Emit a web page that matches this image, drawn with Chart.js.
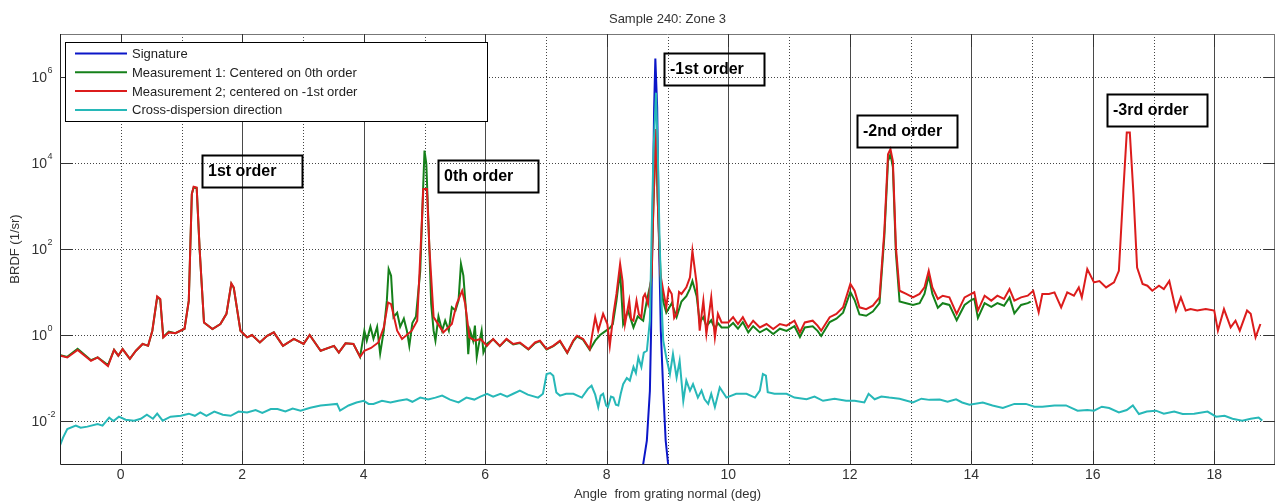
<!DOCTYPE html>
<html>
<head>
<meta charset="utf-8">
<title>Sample 240: Zone 3</title>
<script src="https://cdn.jsdelivr.net/npm/chart.js@4.4.1/dist/chart.umd.min.js"></script>
<style>
    html, body { margin: 0; padding: 0; background: #fff; }
    #wrap { width: 1275px; height: 502px; }
</style>
</head>
<body>
<div id="wrap"><canvas id="brdfChart" width="1275" height="502"></canvas></div>
<script>
// ===================================
// BRDF - Sample 240, Zone 3
// ===================================

const chartTitle = 'Sample 240: Zone 3';
const xTitle = 'Angle  from grating normal (deg)';
const yTitle = 'BRDF (1/sr)';

const seriesLabels = [
    'Signature',
    'Measurement 1: Centered on 0th order',
    'Measurement 2; centered on -1st order',
    'Cross-dispersion direction'
];
const seriesColors = ['#0b16c8', '#15801a', '#dc1c1c', '#27b8b8'];

// eixo y (log): marcas em décadas pares
const yTicks = [1e-2, 1e0, 1e2, 1e4, 1e6];
const yTickExponents = ['-2', '0', '2', '4', '6'];

// Signature (azul)
const sigX = [8.56, 8.60, 8.66, 8.71, 8.73, 8.75, 8.78, 8.80, 8.83, 8.86, 8.89, 8.93, 8.97, 9.01, 9.06];
const sigY = [0.0001, 0.001, 0.0035, 0.05, 1.26, 155, 195000, 2700000, 195000, 155, 1.26, 0.05, 0.0035, 0.001, 0.0001];

// Measurement 1 (verde)
const m1X = [
    -0.99, -0.88, -0.71, -0.49, -0.38, -0.21, -0.11, -0.04, 0.03, 0.15, 0.25, 0.36, 0.45, 0.52, 0.60, 0.65,
    0.70, 0.79, 0.90, 1.05, 1.12, 1.17, 1.20, 1.25, 1.30, 1.37, 1.51, 1.64, 1.74, 1.82, 1.86, 1.97,
    2.08, 2.16, 2.29, 2.41, 2.52, 2.67, 2.85, 3.01, 3.11, 3.29, 3.51, 3.59, 3.70, 3.83, 3.94,
    4.01, 4.05, 4.11, 4.16, 4.22, 4.27, 4.33, 4.38, 4.41, 4.45, 4.49, 4.55, 4.60, 4.66, 4.71, 4.75,
    4.80, 4.86, 4.93, 4.97, 5.00, 5.03, 5.07, 5.11, 5.15, 5.18, 5.23, 5.29, 5.34, 5.40, 5.45, 5.51,
    5.56, 5.60, 5.64, 5.69, 5.72, 5.75, 5.80, 5.83, 5.86, 5.89, 5.94, 5.97,
    6.03, 6.13, 6.24, 6.35, 6.46, 6.57, 6.71, 6.82, 6.90, 7.01, 7.12, 7.23, 7.35, 7.45, 7.51, 7.61,
    7.72, 7.81, 7.89, 7.99, 8.05, 8.10, 8.16, 8.22, 8.27, 8.35, 8.44, 8.51, 8.60, 8.66, 8.73, 8.77,
    8.81, 8.84, 8.89, 8.93, 8.98, 9.07, 9.15, 9.23, 9.31, 9.37, 9.41, 9.48, 9.53, 9.59, 9.64, 9.72,
    9.78, 9.83, 9.89, 10.00, 10.08, 10.16, 10.24, 10.33, 10.41, 10.52, 10.63, 10.74, 10.85, 10.96,
    11.09, 11.18, 11.26, 11.39, 11.47, 11.53, 11.67, 11.78, 11.89, 12.01, 12.08, 12.16, 12.27, 12.38,
    12.49, 12.57, 12.63, 12.67, 12.71, 12.76, 12.82, 12.93, 13.04, 13.15, 13.23, 13.30, 13.36, 13.45,
    13.53, 13.64, 13.76, 13.89, 14.00, 14.05, 14.11, 14.22, 14.33, 14.43, 14.54, 14.63, 14.71, 14.82,
    14.93, 14.98
];
const m1Y = [
    0.34, 0.31, 0.48, 0.26, 0.30, 0.20, 0.45, 0.33, 0.47, 0.28, 0.43, 0.62, 0.56, 1.26, 7.6, 6.7,
    0.9, 1.2, 1.1, 1.4, 6.3, 1900, 2700, 2600, 90, 1.96, 1.38, 1.8, 3.1, 15.5, 12.5, 1.26,
    0.88, 1.0, 0.67, 0.96, 1.15, 0.56, 0.81, 0.62, 1.0, 0.43, 0.56, 0.39, 0.64, 0.62, 0.31,
    1.26, 0.74, 1.55, 0.82, 1.55, 0.37, 1.26, 6.3, 34, 24, 2.6, 3.3, 1.55, 2.4, 1.26, 0.56,
    1.9, 2.7, 31, 1300, 19500, 9500, 270, 5.3, 1.26, 0.74, 2.7, 1.26, 2.15, 1.26, 4.4, 3.7,
    6.3, 45, 24, 2.7, 0.36, 1.26, 0.74, 1.65, 0.31, 0.56, 1.26, 0.39,
    0.63, 0.79, 0.55, 0.79, 0.60, 0.65, 0.46, 0.65, 0.72, 0.46, 0.55, 0.72, 0.38, 0.72, 0.92, 0.78,
    0.45, 0.74, 1.0, 1.26, 1.45, 1.8, 6.3, 31, 1.8, 3.7, 1.5, 2.7, 2.15, 6.3, 18, 1300,
    45000, 1300, 18, 6, 3.3, 5.5, 2.6, 6, 8, 12, 18, 8, 2.0, 2.6, 1.6, 2.2,
    1.4, 1.9, 1.5, 1.5, 1.9, 1.4, 2.0, 1.15, 1.6, 1.15, 1.4, 1.05, 1.4, 1.25,
    1.6, 0.9, 1.5, 1.6, 1.25, 0.95, 2.0, 2.4, 3.3, 10, 6.5, 3.0, 2.8, 3.5,
    5.5, 200, 11000, 16000, 8000, 80, 6, 5.5, 5, 5.5, 9, 24, 9, 4.3,
    5.5, 5, 2.2, 5, 6.5, 7, 2.5, 5.5, 4.5, 5.5, 4.8, 7.5, 3.2, 5,
    5.5, 6
];

// Measurement 2 (vermelho)
const m2X = [
    -0.99, -0.88, -0.71, -0.49, -0.38, -0.21, -0.11, -0.04, 0.03, 0.15, 0.25, 0.36, 0.45, 0.52, 0.60, 0.65,
    0.70, 0.79, 0.90, 1.05, 1.12, 1.17, 1.20, 1.25, 1.30, 1.37, 1.51, 1.64, 1.74, 1.82, 1.86, 1.97,
    2.08, 2.16, 2.29, 2.41, 2.52, 2.67, 2.85, 3.01, 3.11, 3.29, 3.51, 3.59, 3.70, 3.83, 3.94,
    4.01, 4.12, 4.24, 4.33, 4.40, 4.45, 4.55, 4.63, 4.79, 4.88, 4.95, 4.98, 5.04, 5.08, 5.15, 5.31,
    5.45, 5.53, 5.62, 5.67, 5.74, 5.83, 5.92, 6.03, 6.13, 6.24, 6.35, 6.46, 6.57, 6.71, 6.82, 6.90,
    7.01, 7.12, 7.23, 7.35, 7.45, 7.51, 7.61, 7.72, 7.81, 7.86, 7.94, 8.01, 8.05, 8.11, 8.16, 8.22,
    8.26, 8.30, 8.37, 8.40, 8.44, 8.49, 8.53, 8.57, 8.60, 8.63, 8.68, 8.74, 8.77, 8.81, 8.84, 8.88,
    8.93, 8.98, 9.02, 9.07, 9.11, 9.15, 9.19, 9.23, 9.31, 9.37, 9.41, 9.48, 9.53, 9.59, 9.64, 9.72,
    9.78, 9.83, 9.89, 10.00, 10.08, 10.16, 10.24, 10.33, 10.41, 10.52, 10.63, 10.74, 10.85, 10.96,
    11.09, 11.18, 11.26, 11.39, 11.47, 11.53, 11.67, 11.78, 11.89, 12.01, 12.08, 12.16, 12.27, 12.38,
    12.49, 12.57, 12.63, 12.67, 12.71, 12.76, 12.82, 12.93, 13.04, 13.15, 13.23, 13.30, 13.36, 13.45,
    13.53, 13.64, 13.76, 13.89, 14.00, 14.05, 14.11, 14.22, 14.33, 14.43, 14.54, 14.63, 14.71, 14.82,
    14.93, 15.02, 15.11, 15.17, 15.28, 15.37, 15.48, 15.58, 15.69, 15.77, 15.82, 15.91, 16.02, 16.11,
    16.22, 16.35, 16.43, 16.50, 16.56, 16.61, 16.67, 16.73, 16.82, 16.90, 16.98, 17.09, 17.17, 17.26,
    17.37, 17.45, 17.53, 17.61, 17.72, 17.86, 18.00, 18.06, 18.16, 18.27, 18.35, 18.42, 18.54, 18.60,
    18.68, 18.76
];
const m2Y = [
    0.33, 0.30, 0.45, 0.25, 0.30, 0.19, 0.45, 0.33, 0.47, 0.28, 0.43, 0.62, 0.56, 1.26, 7.9, 6.9,
    0.88, 1.15, 1.1, 1.4, 6.3, 1900, 2800, 2700, 91, 1.96, 1.38, 1.8, 3.1, 15.9, 12.8, 1.26,
    0.88, 1.0, 0.67, 0.96, 1.15, 0.56, 0.81, 0.62, 1.0, 0.43, 0.56, 0.39, 0.64, 0.62, 0.31,
    0.43, 0.50, 0.67, 1.5, 5.7, 5.2, 1.26, 0.81, 1.26, 2.15, 270, 2500, 2500, 110, 2.6, 1.15,
    1.8, 5.3, 10.7, 5.3, 0.88, 0.74, 0.81, 0.56, 0.81, 0.56, 0.81, 0.62, 0.67, 0.47, 0.67, 0.74,
    0.47, 0.56, 0.74, 0.39, 0.74, 0.96, 0.81, 0.47, 2.6, 1.26, 3.1, 1.8, 0.56, 3.1, 9, 45,
    18, 1.8, 6.3, 2.4, 2.15, 6.3, 3.0, 2.6, 7.5, 9, 5.3, 26, 1300, 62000, 1300, 27,
    10.7, 4.4, 12, 9, 2.5, 3.1, 10, 9, 12.8, 22, 91, 15.4, 1.26, 6.3, 1.05, 7.5,
    0.88, 3.1, 1.96, 1.96, 2.6, 1.8, 2.6, 1.5, 2.15, 1.5, 1.8, 1.38, 1.8, 1.65,
    2.15, 1.15, 1.96, 2.15, 1.65, 1.26, 2.6, 3.1, 4.4, 15.4, 10.7, 4.4, 4.0, 4.8,
    7.5, 270, 16000, 21000, 11000, 110, 10.7, 9, 7.5, 9, 12.8, 31, 12.8, 6.9,
    8.2, 7.5, 3.1, 7.5, 9, 9.8, 3.7, 8.2, 6.3, 8.2, 6.9, 11.7, 6.3, 7.5,
    8.2, 10.7, 3.4, 9, 9, 9.8, 4.4, 9.8, 8.2, 12.8, 7.5, 34, 16.7, 18,
    12.8, 16.7, 31, 1900, 51000, 51000, 1900, 37, 15.4, 14, 10.7, 14, 11.7, 18,
    3.7, 7.5, 3.7, 4.0, 3.7, 4.0, 3.7, 1.26, 4.0, 1.5, 2.15, 1.26, 3.7, 3.1,
    0.88, 1.8
];

// Cross-dispersion (ciano)
const crossX = [
    -1.00, -0.95, -0.88, -0.74, -0.66, -0.55, -0.38, -0.30, -0.19, -0.12, -0.03, 0.08, 0.22, 0.33, 0.43, 0.53,
    0.60, 0.69, 0.82, 0.99, 1.12, 1.22, 1.31, 1.41, 1.54, 1.68, 1.81, 1.94, 2.08, 2.22, 2.33, 2.47,
    2.58, 2.71, 2.83, 2.96, 3.12, 3.29, 3.42, 3.56, 3.61, 3.75, 3.88, 4.00, 4.08, 4.16, 4.30, 4.44,
    4.57, 4.71, 4.80, 4.93, 5.06, 5.18, 5.29, 5.42, 5.56, 5.69, 5.82, 5.92, 6.03, 6.13, 6.25, 6.36,
    6.46, 6.57, 6.70, 6.87, 6.95, 7.01, 7.07, 7.12, 7.17, 7.23, 7.33, 7.45, 7.59, 7.69, 7.75, 7.81,
    7.86, 7.90, 7.94, 7.99, 8.02, 8.07, 8.11, 8.15, 8.19, 8.23, 8.27, 8.33, 8.38, 8.44, 8.48, 8.52,
    8.57, 8.61, 8.66, 8.71, 8.74, 8.77, 8.81, 8.84, 8.87, 8.90, 8.93, 8.98, 9.04, 9.09, 9.15, 9.20,
    9.26, 9.31, 9.37, 9.42, 9.50, 9.56, 9.61, 9.67, 9.72, 9.78, 9.86, 9.97, 10.13, 10.30, 10.44, 10.52,
    10.57, 10.62, 10.65, 10.76, 10.96, 11.09, 11.29, 11.42, 11.56, 11.75, 11.94, 12.08, 12.24, 12.31,
    12.41, 12.52, 12.65, 12.82, 13.04, 13.18, 13.31, 13.48, 13.61, 13.75, 13.85, 13.97, 14.19, 14.35,
    14.52, 14.71, 14.90, 15.04, 15.17, 15.37, 15.56, 15.75, 15.91, 16.02, 16.15, 16.27, 16.43, 16.56,
    16.66, 16.76, 16.89, 17.04, 17.17, 17.34, 17.48, 17.67, 17.89, 18.03, 18.17, 18.30, 18.46, 18.60,
    18.73, 18.79
];
const crossY = [
    0.0027, 0.0041, 0.0065, 0.0078, 0.0070, 0.0074, 0.0085, 0.0078, 0.012, 0.010, 0.0126, 0.0107, 0.0102, 0.0113, 0.014, 0.0113,
    0.0148, 0.0102, 0.0126, 0.0132, 0.0148, 0.0132, 0.0158, 0.0132, 0.0166, 0.014, 0.0132, 0.0166, 0.0158, 0.018, 0.0155, 0.019,
    0.019, 0.0166, 0.0195, 0.0174, 0.0204, 0.023, 0.024, 0.025, 0.0174, 0.023, 0.027, 0.0295, 0.025, 0.025, 0.0295, 0.027,
    0.0295, 0.032, 0.028, 0.035, 0.0315, 0.035, 0.039, 0.0315, 0.027, 0.035, 0.0315, 0.037, 0.043, 0.037, 0.043, 0.037,
    0.043, 0.051, 0.041, 0.035, 0.043, 0.124, 0.13, 0.113, 0.046, 0.039, 0.043, 0.043, 0.035, 0.056, 0.066, 0.041,
    0.021, 0.039, 0.043, 0.023, 0.021, 0.037, 0.035, 0.024, 0.023, 0.043, 0.072, 0.10, 0.087, 0.18, 0.13, 0.30,
    0.18, 0.39, 0.43, 2.15, 270, 19500, 430000, 19500, 155, 6.3, 0.74, 0.30, 0.124, 0.36, 0.103, 0.25,
    0.0295, 0.087, 0.051, 0.072, 0.035, 0.051, 0.032, 0.025, 0.043, 0.021, 0.06, 0.035, 0.043, 0.043, 0.035, 0.051,
    0.124, 0.113, 0.047, 0.043, 0.043, 0.035, 0.032, 0.037, 0.0295, 0.033, 0.0295, 0.0295, 0.027, 0.043,
    0.032, 0.037, 0.035, 0.033, 0.027, 0.033, 0.031, 0.0315, 0.028, 0.032, 0.027, 0.024, 0.027, 0.023,
    0.020, 0.025, 0.025, 0.0215, 0.0215, 0.023, 0.023, 0.0174, 0.018, 0.0174, 0.0215, 0.020, 0.0158, 0.018,
    0.023, 0.0145, 0.0166, 0.0174, 0.0148, 0.0166, 0.0145, 0.0148, 0.0166, 0.0126, 0.0132, 0.0113, 0.0102, 0.0113,
    0.012, 0.0102
];

// Caixas de texto (canto superior esquerdo em coordenadas de dados)
const noteLabels = ['1st order', '0th order', '-1st order', '-2nd order', '-3rd order'];
const noteX = [1.34, 5.22, 8.94, 12.12, 16.23];
const noteY = [15500, 12000, 3700000, 130000, 400000];

const FONT = "'Liberation Sans', Arial, Helvetica, sans-serif";
const TEXT_COLOR = '#333';

/**
 * Junta dois arrays em pontos {x, y}
 */
function toPoints(xs, ys) {
    return xs.map((x, i) => ({ x: x, y: ys[i] }));
}

/**
 * Plugin com o visual estilo MATLAB: grade, moldura, legenda, títulos e caixas
 */
const matlabLook = {
    id: 'matlabLook',
    beforeDatasetsDraw(chart) {
        const { ctx, chartArea: a, scales: { x, y } } = chart;
        ctx.save();
        ctx.lineWidth = 1;

        // grade vertical: contínua nas pares a partir de 2, pontilhada nas demais
        x.ticks.forEach(t => {
            const v = t.value;
            if (v <= x.min || v >= x.max) return;
            const px = Math.round(x.getPixelForValue(v)) + 0.5;
            if (v >= 2 && v % 2 === 0) {
                ctx.setLineDash([]);
                ctx.strokeStyle = '#4a4a4a';
            } else {
                ctx.setLineDash([1, 2]);
                ctx.strokeStyle = '#444';
            }
            ctx.beginPath();
            ctx.moveTo(px, a.top);
            ctx.lineTo(px, a.bottom);
            ctx.stroke();
        });

        // grade horizontal pontilhada
        ctx.setLineDash([1, 2]);
        ctx.strokeStyle = '#444';
        yTicks.forEach(v => {
            const py = Math.round(y.getPixelForValue(v)) + 0.5;
            ctx.beginPath();
            ctx.moveTo(a.left, py);
            ctx.lineTo(a.right, py);
            ctx.stroke();
        });
        ctx.restore();
    },
    afterDatasetsDraw(chart) {
        const { ctx, chartArea: a, scales: { x, y } } = chart;
        ctx.save();
        ctx.setLineDash([]);

        // moldura
        ctx.lineWidth = 1;
        ctx.strokeStyle = '#777';
        ctx.beginPath();
        ctx.moveTo(a.left, a.top + 0.5);
        ctx.lineTo(a.right, a.top + 0.5);
        ctx.moveTo(a.right - 0.5, a.top);
        ctx.lineTo(a.right - 0.5, a.bottom);
        ctx.stroke();
        ctx.strokeStyle = '#222';
        ctx.beginPath();
        ctx.moveTo(a.left + 0.5, a.top);
        ctx.lineTo(a.left + 0.5, a.bottom + 0.5);
        ctx.lineTo(a.right, a.bottom + 0.5);
        ctx.stroke();

        // marcas internas dos eixos
        ctx.strokeStyle = '#333';
        ctx.beginPath();
        x.ticks.forEach(t => {
            const v = t.value;
            if (v % 2 !== 0 || v <= x.min || v >= x.max) return;
            const px = Math.round(x.getPixelForValue(v)) + 0.5;
            ctx.moveTo(px, a.bottom);
            ctx.lineTo(px, a.bottom - 13);
            ctx.moveTo(px, a.top);
            ctx.lineTo(px, a.top + 13);
        });
        yTicks.forEach(v => {
            const py = Math.round(y.getPixelForValue(v)) + 0.5;
            ctx.moveTo(a.left, py);
            ctx.lineTo(a.left + 13, py);
            ctx.moveTo(a.right, py);
            ctx.lineTo(a.right - 11, py);
        });
        ctx.stroke();

        // rótulos do eixo y (10 com expoente)
        ctx.fillStyle = TEXT_COLOR;
        ctx.textBaseline = 'middle';
        yTicks.forEach((v, i) => {
            const py = y.getPixelForValue(v);
            ctx.font = '14px ' + FONT;
            ctx.textAlign = 'right';
            ctx.fillText('10', a.left - 13, py + 1);
            ctx.font = '9px ' + FONT;
            ctx.textAlign = 'left';
            ctx.fillText(yTickExponents[i], a.left - 12.5, py - 6);
        });

        // título do eixo y
        ctx.save();
        ctx.translate(15, (a.top + a.bottom) / 2);
        ctx.rotate(-Math.PI / 2);
        ctx.font = '13px ' + FONT;
        ctx.textAlign = 'center';
        ctx.fillText(yTitle, 0, 0);
        ctx.restore();

        // título
        ctx.font = '13px ' + FONT;
        ctx.textAlign = 'center';
        ctx.fillText(chartTitle, (a.left + a.right) / 2, 19);

        // caixas de anotação
        ctx.lineWidth = 2;
        ctx.strokeStyle = '#000';
        ctx.fillStyle = '#000';
        ctx.textAlign = 'left';
        ctx.font = 'bold 16px ' + FONT;
        noteLabels.forEach((label, i) => {
            const bx = Math.round(x.getPixelForValue(noteX[i]));
            const by = Math.round(y.getPixelForValue(noteY[i]));
            ctx.strokeRect(bx + 0.5, by + 0.5, 100, 32);
            ctx.fillText(label, bx + 6, by + 17);
        });

        // legenda
        const lx = a.left + 5;
        const ly = a.top + 8;
        ctx.fillStyle = '#fff';
        ctx.fillRect(lx, ly, 422, 79);
        ctx.lineWidth = 1;
        ctx.strokeStyle = '#000';
        ctx.strokeRect(lx + 0.5, ly + 0.5, 422, 79);
        ctx.font = '13px ' + FONT;
        chart.data.datasets.forEach((ds, i) => {
            const ry = ly + 11.5 + i * 18.8;
            ctx.strokeStyle = ds.borderColor;
            ctx.lineWidth = 2;
            ctx.beginPath();
            ctx.moveTo(lx + 10, ry);
            ctx.lineTo(lx + 62, ry);
            ctx.stroke();
            ctx.fillStyle = '#222';
            ctx.fillText(ds.label, lx + 67, ry + 1);
        });

        ctx.restore();
    }
};

const datasets = [
    { data: toPoints(sigX, sigY), order: 3 },
    { data: toPoints(m1X, m1Y), order: 2 },
    { data: toPoints(m2X, m2Y), order: 1 },
    { data: toPoints(crossX, crossY), order: 0 }
].map((ds, i) => Object.assign(ds, {
    label: seriesLabels[i],
    borderColor: seriesColors[i],
    backgroundColor: seriesColors[i],
    borderWidth: 2,
    pointRadius: 0,
    tension: 0,
    fill: false
}));

new Chart(document.getElementById('brdfChart'), {
    type: 'line',
    data: { datasets: datasets },
    options: {
        responsive: false,
        animation: false,
        devicePixelRatio: 1,
        layout: { padding: { top: 34, right: 0, bottom: 0, left: 0 } },
        plugins: {
            legend: { display: false },
            tooltip: { enabled: false },
            title: { display: false }
        },
        scales: {
            x: {
                type: 'linear',
                min: -1,
                max: 19,
                grid: { display: false, drawTicks: false },
                border: { display: false },
                ticks: {
                    stepSize: 1,
                    autoSkip: false,
                    maxRotation: 0,
                    padding: 3,
                    color: TEXT_COLOR,
                    font: { family: FONT, size: 14 },
                    callback: v => (v % 2 === 0 ? String(v) : '')
                },
                title: {
                    display: true,
                    text: xTitle,
                    color: TEXT_COLOR,
                    font: { family: FONT, size: 13 },
                    padding: 0
                },
                afterFit: s => {
                    s.height = 38;
                    s.paddingLeft = 0;
                    s.paddingRight = 0;
                }
            },
            y: {
                type: 'logarithmic',
                min: 1e-3,
                max: 1e7,
                grid: { display: false, drawTicks: false },
                border: { display: false },
                ticks: { display: false },
                afterBuildTicks: s => { s.ticks = yTicks.map(v => ({ value: v })); },
                afterFit: s => {
                    s.width = 60;
                    s.paddingTop = 0;
                    s.paddingBottom = 0;
                }
            }
        }
    },
    plugins: [matlabLook]
});
</script>
</body>
</html>
